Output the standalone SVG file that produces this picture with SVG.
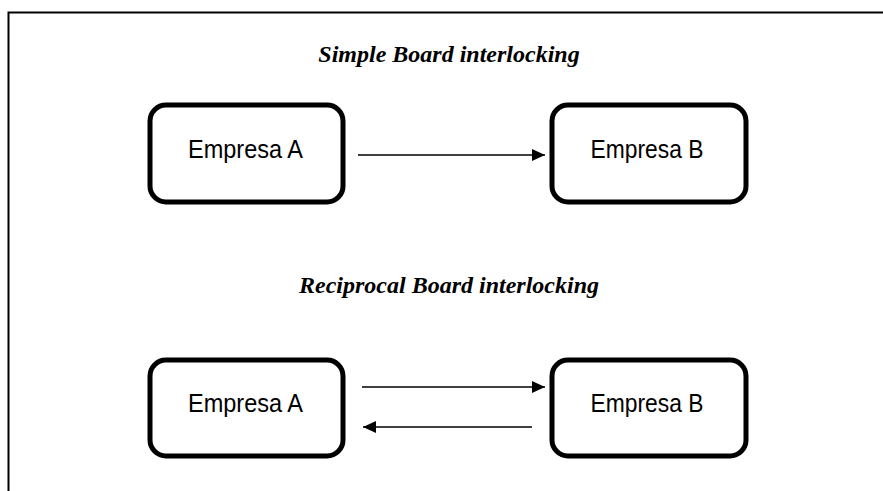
<svg xmlns="http://www.w3.org/2000/svg" width="883" height="491" viewBox="0 0 883 491">
  <style>
    .box { fill: #ffffff; stroke: #000000; stroke-width: 5; }
    .lbl { font-family: "Liberation Sans", Arial, sans-serif; font-size: 25.5px; fill: #000000; text-anchor: middle; }
    .ttl { font-family: "Liberation Serif", "Times New Roman", serif; font-size: 24px; font-weight: bold; font-style: italic; fill: #000000; text-anchor: middle; }
    .conn { stroke: #000000; stroke-width: 1.6; fill: none; marker-end: url(#arrow); }
    .frame { stroke: #000000; stroke-width: 2; fill: none; }
  </style>
  <defs>
    <marker id="arrow" markerUnits="userSpaceOnUse" markerWidth="14" markerHeight="12" refX="13" refY="6" orient="auto">
      <path d="M0,0 L13,6 L0,12 Z" fill="#000000"/>
    </marker>
  </defs>
  <rect width="883" height="491" fill="#ffffff"/>
  <path class="frame" d="M8.5,491 L8.5,12.5 L883,12.5"/>

  <g id="title-simple">
    <text class="ttl" x="449" y="62">Simple Board interlocking</text>
  </g>
  <g id="title-reciprocal">
    <text class="ttl" x="449" y="293">Reciprocal Board interlocking</text>
  </g>

  <g id="simple-empresa-a">
    <rect class="box" x="150" y="105" width="193" height="97" rx="16" ry="16"/>
    <text class="lbl" x="245.5" y="158" textLength="115" lengthAdjust="spacingAndGlyphs">Empresa A</text>
  </g>
  <g id="simple-empresa-b">
    <rect class="box" x="552" y="105" width="194" height="97" rx="16" ry="16"/>
    <text class="lbl" x="647" y="158" textLength="113" lengthAdjust="spacingAndGlyphs">Empresa B</text>
  </g>

  <g id="reciprocal-empresa-a">
    <rect class="box" x="150" y="360" width="193" height="96" rx="16" ry="16"/>
    <text class="lbl" x="245.5" y="412" textLength="115" lengthAdjust="spacingAndGlyphs">Empresa A</text>
  </g>
  <g id="reciprocal-empresa-b">
    <rect class="box" x="552" y="360" width="194" height="96" rx="16" ry="16"/>
    <text class="lbl" x="647" y="412" textLength="113" lengthAdjust="spacingAndGlyphs">Empresa B</text>
  </g>

  <g id="connectors">
    <line class="conn" x1="358" y1="155" x2="545" y2="155"/>
    <line class="conn" x1="362" y1="387" x2="545" y2="387"/>
    <line class="conn" x1="532" y1="427" x2="363" y2="427"/>
  </g>
</svg>
